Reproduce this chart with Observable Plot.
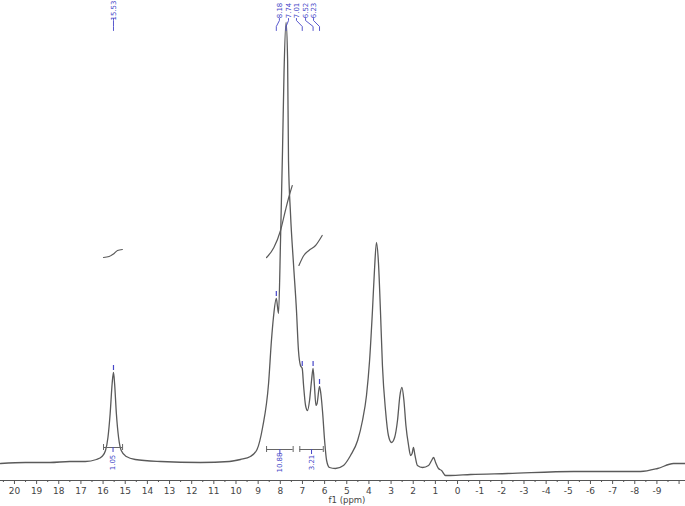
<!DOCTYPE html>
<html>
<head>
<meta charset="utf-8">
<script src="https://cdn.jsdelivr.net/npm/d3@7"></script>
<script src="https://cdn.jsdelivr.net/npm/@observablehq/plot@0.6"></script>
<style>
  html, body { margin: 0; padding: 0; background: #fff; }
  #chart svg { display: block; }
</style>
</head>
<body>
<div id="chart"></div>
<script>
// Spectrum trace (chemical shift in ppm, relative intensity)
const specPpm = [20.63, 19.5, 18.4, 17.5, 16.8, 16.3, 16.05, 15.89, 15.78, 15.68, 15.59, 15.53, 15.48, 15.40, 15.30, 15.18, 14.95, 14.55, 13.4, 11.6, 10.3, 9.8, 9.35, 9.05, 8.80, 8.53, 8.40, 8.31, 8.18, 8.08, 7.99, 7.90, 7.83, 7.74, 7.67, 7.63, 7.54, 7.40, 7.27, 7.18, 7.09, 7.01, 6.95, 6.86, 6.77, 6.68, 6.59, 6.52, 6.46, 6.39, 6.34, 6.23, 6.16, 6.09, 6.00, 5.91, 5.78, 5.51, 5.15, 4.83, 4.51, 4.29, 4.11, 3.97, 3.84, 3.75, 3.66, 3.57, 3.48, 3.39, 3.25, 3.12, 2.98, 2.84, 2.71, 2.60, 2.51, 2.42, 2.33, 2.21, 2.12, 2.05, 1.99, 1.92, 1.81, 1.58, 1.31, 1.17, 1.08, 0.99, 0.86, 0.72, 0.54, 0.32, -0.59, -2.26, -5.24, -8.26, -9.03, -9.75, -10.29];
const specInt = [0, 1, 1, 2, 2, 4, 7, 13, 26, 50, 80, 91, 80, 50, 26, 13, 7, 4, 2, 1, 2, 4, 7, 14, 36, 80, 123, 146, 165, 150, 223, 313, 393, 441, 403, 303, 250, 198, 153, 113, 98, 95, 78, 58, 53, 63, 83, 95, 78, 58, 60, 77, 68, 51, 23, 3, -4, -5, -2, 8, 23, 43, 68, 103, 153, 193, 221, 201, 153, 98, 53, 28, 21, 26, 43, 68, 76, 63, 38, 18, 8, 10, 16, 8, -2, -4, -2, 3, 6, 1, -5, -7, -12, -12, -11, -10, -8, -8, -5, 0, 0];

// Picked peaks
const peakPpm = [15.53, 8.18, 7.74, 7.01, 6.52, 6.23];
const peakInt = [91, 165, 441, 95, 95, 77];
const peakLabels = ["15.53", "8.18", "7.74", "7.01", "6.52", "6.23"];
const peakLabelPpm = [15.53, 8.04, 7.63, 7.27, 6.86, 6.50];

// Integral curves
const int1Ppm = [15.98, 15.73, 15.50, 15.35, 15.13];
const int1Val = [206, 207, 210, 213, 214];
const int2Ppm = [8.62, 8.29, 7.99, 7.77, 7.62, 7.46];
const int2Val = [206, 216, 233, 253, 266, 278];
const int3Ppm = [7.16, 6.94, 6.71, 6.41, 6.11];
const int3Val = [198, 208, 213, 218, 228];

// Integral regions and values
const integFrom = [15.98, 8.62, 7.12];
const integTo = [15.12, 7.42, 6.06];
const integLevel = [16, 14, 14];
const integLabels = ["1.05", "10.88", "3.21"];

// Axis ticks
const majorTicks = d3.range(-10, 21);
const minorTicks = d3.range(-10.5, 21, 1);

const spectrum = specPpm.map((p, i) => ({ppm: p, v: specInt[i]}));
const integrals = [
  ...int1Ppm.map((p, i) => ({ppm: p, v: int1Val[i], k: 0})),
  ...int2Ppm.map((p, i) => ({ppm: p, v: int2Val[i], k: 1})),
  ...int3Ppm.map((p, i) => ({ppm: p, v: int3Val[i], k: 2}))
];
const peaks = peakPpm.map((p, i) => ({ppm: p, v: peakInt[i], label: peakLabels[i], lp: peakLabelPpm[i]}));
const connectors = peaks.flatMap((d, i) => [
  {k: i, ppm: d.lp, v: 445},
  {k: i, ppm: d.lp, v: 443},
  {k: i, ppm: d.ppm, v: 437},
  {k: i, ppm: d.ppm, v: 433}
]);
const integ = integFrom.map((f, i) => ({from: f, to: integTo[i], lvl: integLevel[i], mid: (f + integTo[i]) / 2, label: integLabels[i]}));

const blue = "#4646c8";
const gray = "#5a5a5a";

const chart = Plot.plot({
  width: 685,
  height: 506,
  marginTop: 0,
  marginBottom: 26,
  marginLeft: 0,
  marginRight: 0,
  style: {fontFamily: "DejaVu Sans", background: "#fff"},
  x: {domain: [20.63, -10.29], label: null},
  y: {domain: [-17, 463], axis: null},
  marks: [
    Plot.ruleY([-17], {stroke: "#555", strokeWidth: 1}),
    Plot.axisX({ticks: majorTicks, tickSize: 4, tickPadding: 3, fontSize: 9, stroke: "#555", color: "#444",
      tickFormat: d => d >= -9 ? String(d) : ""}),
    Plot.axisX({ticks: minorTicks, tickSize: 2, tickFormat: () => "", stroke: "#555"}),
    Plot.text(["f1 (ppm)"], {x: 4.99, frameAnchor: "bottom", dy: 22.5, text: d => d, fontSize: 8.5, fill: "#444"}),
    // spectrum
    Plot.line(spectrum, {x: "ppm", y: "v", curve: "monotone-x", stroke: gray, strokeWidth: 1.3}),
    // integral curves
    Plot.line(integrals, {x: "ppm", y: "v", z: "k", curve: "monotone-x", stroke: gray, strokeWidth: 1.2}),
    // integral brackets
    Plot.ruleY(integ, {y: "lvl", x1: "from", x2: "to", stroke: "#666", strokeWidth: 1}),
    Plot.ruleX(integ, {x: "from", y1: d => d.lvl - 3, y2: d => d.lvl + 3, stroke: "#666", strokeWidth: 1}),
    Plot.ruleX(integ, {x: "to", y1: d => d.lvl - 3, y2: d => d.lvl + 3, stroke: "#666", strokeWidth: 1}),
    Plot.ruleX(integ, {x: "mid", y1: d => d.lvl, y2: d => d.lvl - 5, stroke: blue, strokeWidth: 1}),
    Plot.text(integ, {x: "mid", y: 1, text: "label", rotate: -90, fontSize: 7, fill: blue}),
    // peak markers
    Plot.ruleX(peaks.filter(d => d.label !== "7.74"), {x: "ppm", y1: d => d.v + 2, y2: d => d.v + 7, stroke: blue, strokeWidth: 1.2}),
    Plot.line(connectors, {x: "ppm", y: "v", z: "k", stroke: blue, strokeWidth: 0.9}),
    Plot.text(peaks, {x: "lp", y: 453, text: "label", rotate: -90, fontSize: 7, fill: blue})
  ]
});
document.getElementById("chart").appendChild(chart);
</script>
</body>
</html>
